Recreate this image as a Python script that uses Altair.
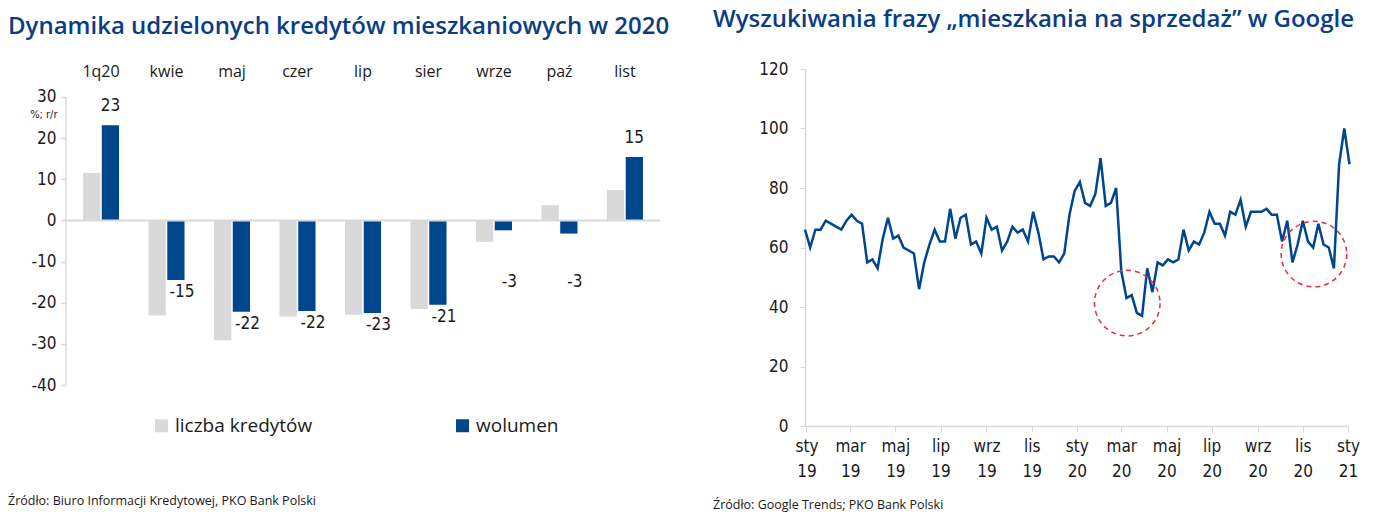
import altair as alt
import pandas as pd

# ---------------- Left chart data ----------------
categories = ["1q20", "kwie", "maj", "czer", "lip", "sier", "wrze", "paź", "list"]
series_names = ["liczba kredytów", "wolumen"]
liczba_kredytow = [11.5, -23.1, -29.1, -23.4, -22.9, -21.5, -5.2, 3.7, 7.4]
wolumen = [23.1, -14.5, -22.2, -22.0, -22.5, -20.5, -2.4, -3.2, 15.4]
wolumen_labels = ["23", "-15", "-22", "-22", "-23", "-21", "-3", "-3", "15"]
left_y_ticks = [-40, -30, -20, -10, 0, 10, 20, 30]

# ---------------- Right chart data ----------------
first_week = "2018-12-30"
searches = [
    66, 60, 66, 66, 69, 68, 67, 66, 69, 71, 69, 68, 55, 56, 53, 63, 70, 63, 64, 60,
    59, 58, 46, 55, 61, 66, 62, 62, 73, 63, 70, 71, 61, 62, 58, 70, 66, 67, 59, 62,
    67, 65, 66, 62, 72, 65, 56, 57, 57, 55, 58, 71, 79, 82, 75, 74, 78, 90, 74, 75,
    80, 52, 43, 44, 38, 37, 53, 45, 55, 54, 56, 55, 56, 66, 59, 62, 61, 65, 72, 68,
    68, 64, 72, 71, 76, 67, 72, 72, 72, 73, 71, 71, 62, 69, 55, 61, 69, 62, 60, 68,
    61, 60, 53, 88, 100, 88,
]
right_y_ticks = [0, 20, 40, 60, 80, 100, 120]
circle_dates = ["2020-03-09T00:00:00Z", "2020-11-16T00:00:00Z"]
circle_values = [41.3, 57.8]
month_names = ["sty", "lut", "mar", "kwi", "maj", "cze", "lip", "sie", "wrz", "paź", "lis", "gru"]

title_left = "Dynamika udzielonych kredytów mieszkaniowych w 2020"
title_right = "Wyszukiwania frazy „mieszkania na sprzedaż” w Google"
source_left = "Źródło: Biuro Informacji Kredytowej, PKO Bank Polski"
source_right = "Źródło: Google Trends; PKO Bank Polski"

GREY = "#d9d9d9"
BLUE = "#00468c"
TITLE_BLUE = "#0b3d85"
NARROW = "Liberation Sans Narrow, DejaVu Sans Condensed, sans-serif"
MAIN = "Open Sans"
HYPHEN_EXPR = "datum.value < 0 ? '-' + abs(datum.value) : '' + datum.value"

# ---------------- Left chart ----------------
rows = []
for c, a, b in zip(categories, liczba_kredytow, wolumen):
    rows.append({"cat": c, "series": series_names[0], "value": a})
    rows.append({"cat": c, "series": series_names[1], "value": b})
df_bars = pd.DataFrame(rows)
df_lab = pd.DataFrame({"cat": categories, "series": series_names[1],
                       "value": wolumen, "label": wolumen_labels})

x_enc = alt.X("cat:N", sort=categories,
              scale=alt.Scale(paddingInner=0.45, paddingOuter=0.26),
              axis=alt.Axis(orient="top", title=None, ticks=False, tickSize=0, domain=False,
                            labelAngle=0, labelPadding=-2, labelBaseline="middle",
                            labelFontSize=16, labelFont=MAIN, labelColor="#1a1a1a"))
xo_enc = alt.XOffset("series:N", sort=series_names, scale=alt.Scale(paddingInner=0.08))
y_scale_left = alt.Scale(domain=[-40, 36.8], nice=False, zero=False)

bars = alt.Chart(df_bars).mark_bar().encode(
    x=x_enc,
    xOffset=xo_enc,
    y=alt.Y("value:Q", scale=y_scale_left,
            axis=alt.Axis(values=left_y_ticks, grid=False, title="%; r/r", domain=False,
                          titleAngle=0, titleAlign="right", titleBaseline="middle",
                          titleX=-9, titleY=45, titleFontSize=11, titleFont=NARROW,
                          titleFontWeight="normal", titleColor="#1a1a1a",
                          tickColor=GREY, tickSize=5, tickWidth=1.5,
                          labelExpr=HYPHEN_EXPR,
                          labelPadding=5, labelFontSize=17, labelFont=NARROW,
                          labelColor="#1a1a1a")),
    color=alt.Color("series:N", sort=series_names,
                    scale=alt.Scale(domain=series_names, range=[GREY, BLUE]),
                    legend=alt.Legend(title=None, orient="none", direction="horizontal",
                                      legendX=86, legendY=347, symbolType="square",
                                      symbolSize=169, symbolStrokeWidth=0,
                                      labelFontSize=19, labelFont=MAIN,
                                      labelColor="#1a1a1a", columnPadding=140,
                                      labelOffset=4, padding=0)),
)

axis_line = alt.Chart(pd.DataFrame({"lo": [-40], "hi": [30]})).mark_rule(
    color=GREY, strokeWidth=1.5).encode(
    x=alt.value(0), y=alt.Y("lo:Q", scale=y_scale_left), y2="hi:Q")

zero_rule = alt.Chart(pd.DataFrame({"z": [0]})).mark_rule(color=GREY, strokeWidth=2).encode(
    y=alt.Y("z:Q", scale=y_scale_left))

pos_labels = alt.Chart(df_lab).transform_filter("datum.value > 0").mark_text(
    baseline="bottom", dy=-10, fontSize=17, font=NARROW, color="#1a1a1a").encode(
    x=alt.X("cat:N", sort=categories), xOffset=alt.XOffset("series:N", sort=series_names),
    y=alt.Y("value:Q", scale=y_scale_left), text="label:N")

neg_labels = alt.Chart(df_lab).transform_filter("datum.value < 0").transform_calculate(
    ly="min(datum.value, -12) - 3").mark_text(
    baseline="middle", dx=6, fontSize=17, font=NARROW, color="#1a1a1a").encode(
    x=alt.X("cat:N", sort=categories), xOffset=alt.XOffset("series:N", sort=series_names),
    y=alt.Y("ly:Q", scale=y_scale_left), text="label:N")

src_left = alt.Chart(pd.DataFrame({"t": [source_left]})).mark_text(
    align="left", baseline="middle", fontSize=12.5, font=MAIN, color="#1a1a1a").encode(
    x=alt.value(-58), y=alt.value(432), text="t:N")

left = alt.layer(bars, axis_line, zero_rule, pos_labels, neg_labels, src_left).properties(
    width=594, height=316,
    title=alt.TitleParams(title_left, anchor="start", frame="group", dx=-58,
                          fontSize=24, font=MAIN, fontWeight=600,
                          color=TITLE_BLUE, offset=24),
)

# ---------------- Right chart ----------------
dates = pd.date_range(first_week, periods=len(searches), freq="7D")
df_line = pd.DataFrame({"date": dates.strftime("%Y-%m-%dT00:00:00Z"), "value": searches})
df_circ = pd.DataFrame({"date": circle_dates, "value": circle_values})

x_ticks = [alt.DateTime(year=y, month=m, date=1, utc=True)
           for y, m in [(2019, 1), (2019, 3), (2019, 5), (2019, 7), (2019, 9), (2019, 11),
                        (2020, 1), (2020, 3), (2020, 5), (2020, 7), (2020, 9), (2020, 11),
                        (2021, 1)]]
months_js = "[" + ",".join("'%s'" % m for m in month_names) + "]"
x_scale_right = alt.Scale(type="utc", domain=[alt.DateTime(year=2018, month=12, date=30, utc=True),
                                              alt.DateTime(year=2021, month=1, date=1, utc=True)])
y_scale_right = alt.Scale(domain=[0, 120], nice=False)

line = alt.Chart(df_line).mark_line(color=BLUE, strokeWidth=2.5).encode(
    x=alt.X("date:T", scale=x_scale_right,
            axis=alt.Axis(values=x_ticks, title=None, grid=False,
                          labelExpr="[" + months_js + "[utcmonth(datum.value)], utcFormat(datum.value, '%y')]",
                          labelLineHeight=25, labelBaseline="top", labelPadding=6,
                          labelFontSize=17, labelFont=NARROW, labelColor="#1a1a1a",
                          labelAlign="center", labelOverlap=False, labelFlush=False,
                          domainColor=GREY, domainWidth=1.5, tickColor=GREY, tickSize=6)),
    y=alt.Y("value:Q", scale=y_scale_right,
            axis=alt.Axis(values=right_y_ticks, title=None, grid=False,
                          domainColor=GREY, domainWidth=1.5, tickColor=GREY, tickSize=5,
                          labelPadding=12, labelFontSize=17, labelFont=NARROW,
                          labelColor="#1a1a1a")),
)

circles = alt.Chart(df_circ).mark_point(
    shape="circle", filled=False, size=4300, color="#e5303c", strokeWidth=1.5,
    strokeDash=[5, 4], opacity=1).encode(
    x=alt.X("date:T", scale=x_scale_right), y=alt.Y("value:Q", scale=y_scale_right))

src_right = alt.Chart(pd.DataFrame({"t": [source_right]})).mark_text(
    align="left", baseline="middle", fontSize=12.5, font=MAIN, color="#1a1a1a").encode(
    x=alt.value(-92), y=alt.value(436), text="t:N")

right = alt.layer(line, circles, src_right).properties(
    width=543, height=357,
    title=alt.TitleParams(title_right, anchor="start", frame="group", dx=-92,
                          fontSize=24, font=MAIN, fontWeight=600,
                          color=TITLE_BLUE, offset=28),
)

chart = alt.hconcat(left, right, spacing=43).properties(
    padding={"left": 0, "top": 0, "right": 12, "bottom": 4}).configure_view(
    stroke=None).resolve_scale(color="independent")

chart.save("out.html", embed_options={"renderer": "svg", "actions": False})
